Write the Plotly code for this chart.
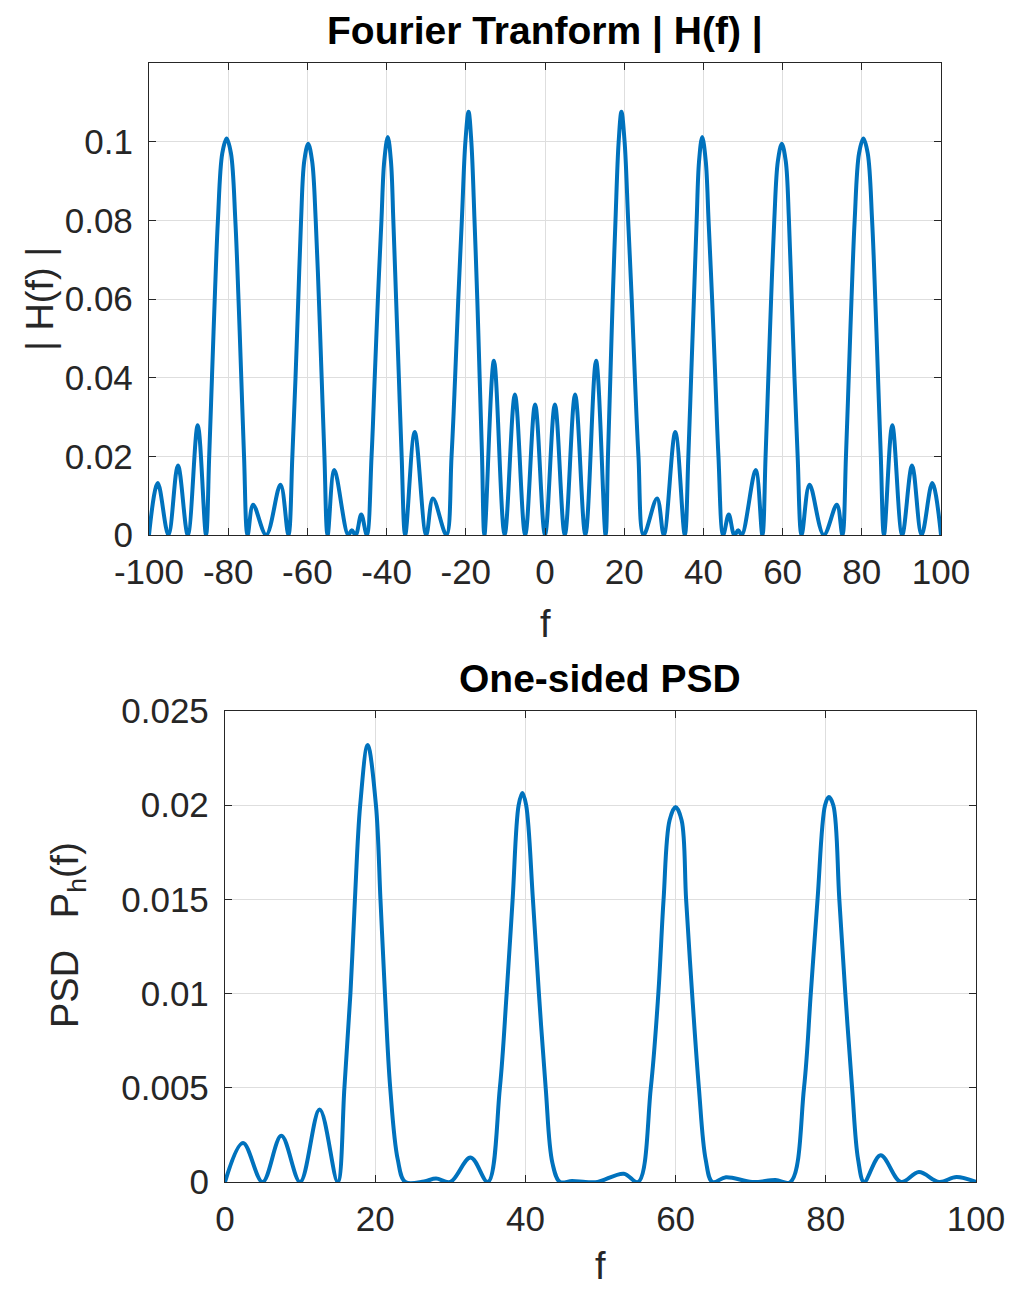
import plotly.graph_objects as go

# ---------------- data ----------------
# Top panel: |H(f)|, f in [-100, 100]
f_h = [-100.0, -97.8, -95.1, -92.7, -90.2, -87.7, -85.6, -84.8, -84.1, -83.4, -82.6, -81.5,
       -80.4, -79.3, -78.2, -77.4, -76.7, -76.0, -75.1, -73.7, -70.4, -66.8, -64.8, -63.8,
       -63.0, -62.3, -61.6, -60.8, -59.8, -58.8, -57.9, -57.1, -56.4, -55.7, -54.9, -53.2,
       -49.7, -48.8, -47.8, -46.4, -45.0, -43.8, -43.0, -42.2, -41.3, -40.6, -39.7, -38.9,
       -38.3, -37.6, -36.9, -36.2, -35.3, -32.9, -30.0, -28.3, -24.9, -23.6, -22.7, -21.9,
       -21.0, -20.1, -19.3, -18.6, -17.8, -17.1, -16.5, -15.9, -15.3, -12.9, -10.2, -7.6,
       -5.0, -2.5,
       0.0,
       2.5, 5.0, 7.6, 10.2, 12.9, 15.3, 15.9, 16.5, 17.1, 17.8, 18.6, 19.3, 20.1, 21.0, 21.9,
       22.7, 23.6, 24.9, 28.3, 30.0, 32.9, 35.3, 36.2, 36.9, 37.6, 38.3, 38.9, 39.7, 40.6,
       41.3, 42.2, 43.0, 43.8, 45.0, 46.4, 47.8, 48.8, 49.7, 53.2, 54.9, 55.7, 56.4, 57.1,
       57.9, 58.8, 59.8, 60.8, 61.6, 62.3, 63.0, 63.8, 64.8, 66.8, 70.4, 73.7, 75.1, 76.0,
       76.7, 77.4, 78.2, 79.3, 80.4, 81.5, 82.6, 83.4, 84.1, 84.8, 85.6, 87.7, 90.2, 92.7,
       95.1, 97.8, 100.0]
h_mag = [0, 0.0132, 0, 0.0177, 0, 0.0279, 0, 0.02, 0.04, 0.06, 0.08, 0.097,
         0.1008, 0.097, 0.08, 0.06, 0.04, 0.02, 0, 0.0077, 0, 0.0128, 0, 0.02,
         0.04, 0.06, 0.08, 0.095, 0.0995, 0.095, 0.08, 0.06, 0.04, 0.02, 0, 0.0165,
         0, 0.0012, 0, 0.0052, 0, 0.02, 0.04, 0.06, 0.08, 0.095, 0.1012, 0.095,
         0.08, 0.06, 0.04, 0.02, 0, 0.0262, 0, 0.0093, 0, 0.02, 0.04, 0.06,
         0.08, 0.1, 0.1076, 0.1, 0.08, 0.06, 0.04, 0.02, 0, 0.0443, 0, 0.0357,
         0, 0.0332,
         0,
         0.0332, 0, 0.0357, 0, 0.0443, 0, 0.02, 0.04, 0.06, 0.08, 0.1, 0.1076, 0.1, 0.08, 0.06,
         0.04, 0.02, 0, 0.0093, 0, 0.0262, 0, 0.02, 0.04, 0.06, 0.08, 0.095, 0.1012, 0.095,
         0.08, 0.06, 0.04, 0.02, 0, 0.0052, 0, 0.0012, 0, 0.0165, 0, 0.02, 0.04, 0.06,
         0.08, 0.095, 0.0995, 0.095, 0.08, 0.06, 0.04, 0.02, 0, 0.0128, 0, 0.0077, 0, 0.02,
         0.04, 0.06, 0.08, 0.097, 0.1008, 0.097, 0.08, 0.06, 0.04, 0.02, 0, 0.0279, 0, 0.0177,
         0, 0.0132, 0]

# Bottom panel: one-sided PSD, f in [0, 100]
f_psd = [0, 2.4, 5.0, 7.5, 10.0, 12.6, 15.0, 15.9, 16.7, 17.3, 18.0, 19.0, 20.1, 20.7,
         21.3, 22.0, 23.0, 24.0, 26.5, 28.1, 30.0, 32.7, 35.0, 36.6, 37.5, 38.3, 39.1,
         39.6, 40.1, 41.0, 41.8, 42.7, 43.6, 44.6, 46.2, 48.0, 49.6, 53.1, 55.0, 56.7,
         57.7, 58.4, 59.2, 60.0, 60.8, 61.4, 62.2, 63.1, 64.0, 64.9, 66.7, 70.2, 73.3,
         75.3, 77.1, 78.0, 78.9, 79.9, 80.4, 81.0, 81.8, 82.6, 83.5, 84.3, 85.1, 87.3,
         90.0, 92.4, 95.1, 97.4, 100.0]
psd = [0, 0.00207, 0, 0.00245, 0, 0.00385, 0, 0.005, 0.01, 0.015, 0.02, 0.0232, 0.02, 0.015,
       0.01, 0.005, 0.0012, 0, 0.00003, 0.00018, 0, 0.0013, 0, 0.005, 0.01, 0.015, 0.02,
       0.02065, 0.02, 0.015, 0.01, 0.005, 0.001, 0, 0.00005, 0, 0, 0.00044, 0, 0.005,
       0.01, 0.015, 0.0192, 0.0199, 0.0192, 0.015, 0.01, 0.005, 0.0012, 0, 0.00025, 0, 0.0001,
       0, 0.005, 0.01, 0.015, 0.02, 0.02043, 0.02, 0.015, 0.01, 0.005, 0.0012, 0, 0.00142,
       0, 0.00053, 0, 0.00027, 0]

top_xticks = [-100, -80, -60, -40, -20, 0, 20, 40, 60, 80, 100]
top_xlabels = ["-100", "-80", "-60", "-40", "-20", "0", "20", "40", "60", "80", "100"]
top_yticks = [0, 0.02, 0.04, 0.06, 0.08, 0.1]
top_ylabels = ["0", "0.02", "0.04", "0.06", "0.08", "0.1"]
bot_xticks = [0, 20, 40, 60, 80, 100]
bot_xlabels = ["0", "20", "40", "60", "80", "100"]
bot_yticks = [0, 0.005, 0.01, 0.015, 0.02, 0.025]
bot_ylabels = ["0", "0.005", "0.01", "0.015", "0.02", "0.025"]

# ---------------- figure ----------------
W, H = 1013, 1289
FONT = "Liberation Sans, Arial, Helvetica, sans-serif"
AX = "#262626"
GRID = "#dedede"
BLUE = "#0072BD"

def px(x):
    return x / W

def py(y):
    return 1 - y / H

fig = go.Figure()
fig.add_trace(go.Scatter(x=f_h, y=h_mag, mode="lines", xaxis="x", yaxis="y",
                         line=dict(color=BLUE, width=4, shape="spline", smoothing=1.0),
                         showlegend=False, hoverinfo="skip"))
fig.add_trace(go.Scatter(x=f_psd, y=psd, mode="lines", xaxis="x2", yaxis="y2",
                         line=dict(color=BLUE, width=4, shape="spline", smoothing=1.0),
                         showlegend=False, hoverinfo="skip"))

common = dict(showline=True, linecolor=AX, linewidth=1.3, mirror="ticks",
              ticks="inside", ticklen=7, tickcolor=AX, tickwidth=1.3,
              showgrid=True, gridcolor=GRID, gridwidth=1, zeroline=False,
              automargin=False,
              tickfont=dict(family=FONT, size=35, color=AX), fixedrange=True)

fig.update_layout(
    template="none",
    width=W, height=H,
    margin=dict(l=0, r=0, t=0, b=0, pad=0),
    paper_bgcolor="white", plot_bgcolor="white",
    xaxis=dict(domain=[px(149), px(941)], range=[-100, 100], tickvals=top_xticks,
               ticktext=top_xlabels, anchor="y", ticklabelstandoff=6, **common),
    yaxis=dict(domain=[py(535), py(63)], range=[0, 0.12], tickvals=top_yticks,
               ticktext=top_ylabels, anchor="x", ticklabelstandoff=8, **common),
    xaxis2=dict(domain=[px(225), px(976)], range=[0, 100], tickvals=bot_xticks,
                ticktext=bot_xlabels, anchor="y2", ticklabelstandoff=6, **common),
    yaxis2=dict(domain=[py(1182), py(711)], range=[0, 0.025], tickvals=bot_yticks,
                ticktext=bot_ylabels, anchor="x2", ticklabelstandoff=8, **common),
)

ann = []
ann.append(dict(text="<b>Fourier Tranform | H(f) |</b>", x=px(545), y=py(31),
                font=dict(family=FONT, size=39, color="black")))
ann.append(dict(text="<b>One-sided PSD</b>", x=px(600), y=py(678),
                font=dict(family=FONT, size=39, color="black")))
ann.append(dict(text="f", x=px(545), y=py(624),
                font=dict(family=FONT, size=38, color=AX)))
ann.append(dict(text="f", x=px(600), y=0, yanchor="bottom",
                font=dict(family=FONT, size=38, color=AX)))
ann.append(dict(text="| H(f) |", x=px(40), y=py(299), textangle=-90,
                font=dict(family=FONT, size=38, color=AX)))
ann.append(dict(text="PSD   P<sub>h</sub>(f)", x=px(68), y=py(935), textangle=-90,
                font=dict(family=FONT, size=38, color=AX)))
for a in ann:
    a.setdefault("yanchor", "middle")
    a.update(xref="paper", yref="paper", xanchor="center", showarrow=False)
fig.update_layout(annotations=ann)

fig.write_html("out.html")
